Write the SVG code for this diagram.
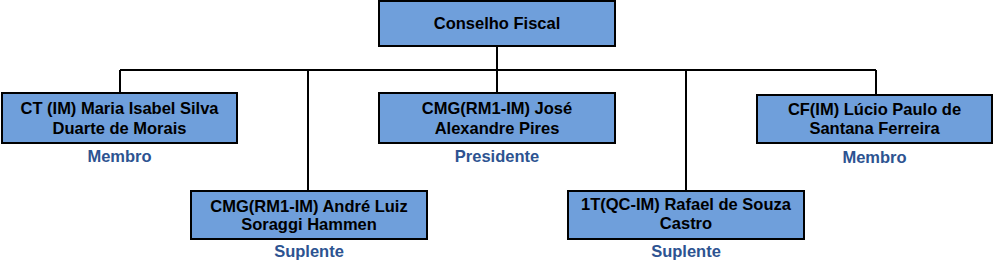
<svg xmlns="http://www.w3.org/2000/svg" width="995" height="263" viewBox="0 0 995 263">
<style>
.box{fill:#6f9fdb;stroke:#000;stroke-width:2}
.t{font-family:"Liberation Sans",Arial,sans-serif;font-weight:bold;font-size:16.5px;fill:#000;text-anchor:middle}
.l{font-family:"Liberation Sans",Arial,sans-serif;font-weight:bold;font-size:16.5px;fill:#2d5391;text-anchor:middle}
.c{fill:none;stroke:#000;stroke-width:2}
</style>
<rect width="995" height="263" fill="#fff"/>
<g id="connectors">
<path class="c" d="M497 46V70M120 70H876M120 70V93M308 70V191M497 70V93M686 70V191M876 70V95"/>
</g>
<g id="n0">
<rect class="box" x="379" y="1" width="236" height="45"/>
<text class="t" x="497" y="29">Conselho Fiscal</text>
</g>
<g id="n1">
<rect class="box" x="2" y="93" width="235" height="50"/>
<text class="t" x="119.5" y="114">CT (IM) Maria Isabel Silva</text>
<text class="t" x="119.5" y="134">Duarte de Morais</text>
<text class="l" x="119.5" y="162">Membro</text>
</g>
<g id="n2">
<rect class="box" x="191" y="191" width="236" height="48"/>
<text class="t" x="309" y="212">CMG(RM1-IM) André Luiz</text>
<text class="t" x="309" y="230">Soraggi Hammen</text>
<text class="l" x="309" y="257">Suplente</text>
</g>
<g id="n3">
<rect class="box" x="379" y="93" width="236" height="50"/>
<text class="t" x="497" y="114">CMG(RM1-IM) José</text>
<text class="t" x="497" y="134">Alexandre Pires</text>
<text class="l" x="497" y="162">Presidente</text>
</g>
<g id="n4">
<rect class="box" x="568" y="191" width="236" height="48"/>
<text class="t" x="686" y="210">1T(QC-IM) Rafael de Souza</text>
<text class="t" x="686" y="229">Castro</text>
<text class="l" x="686" y="257">Suplente</text>
</g>
<g id="n5">
<rect class="box" x="757" y="95" width="235" height="48"/>
<text class="t" x="874.5" y="115">CF(IM) Lúcio Paulo de</text>
<text class="t" x="874.5" y="134">Santana Ferreira</text>
<text class="l" x="874.5" y="163">Membro</text>
</g>
</svg>
